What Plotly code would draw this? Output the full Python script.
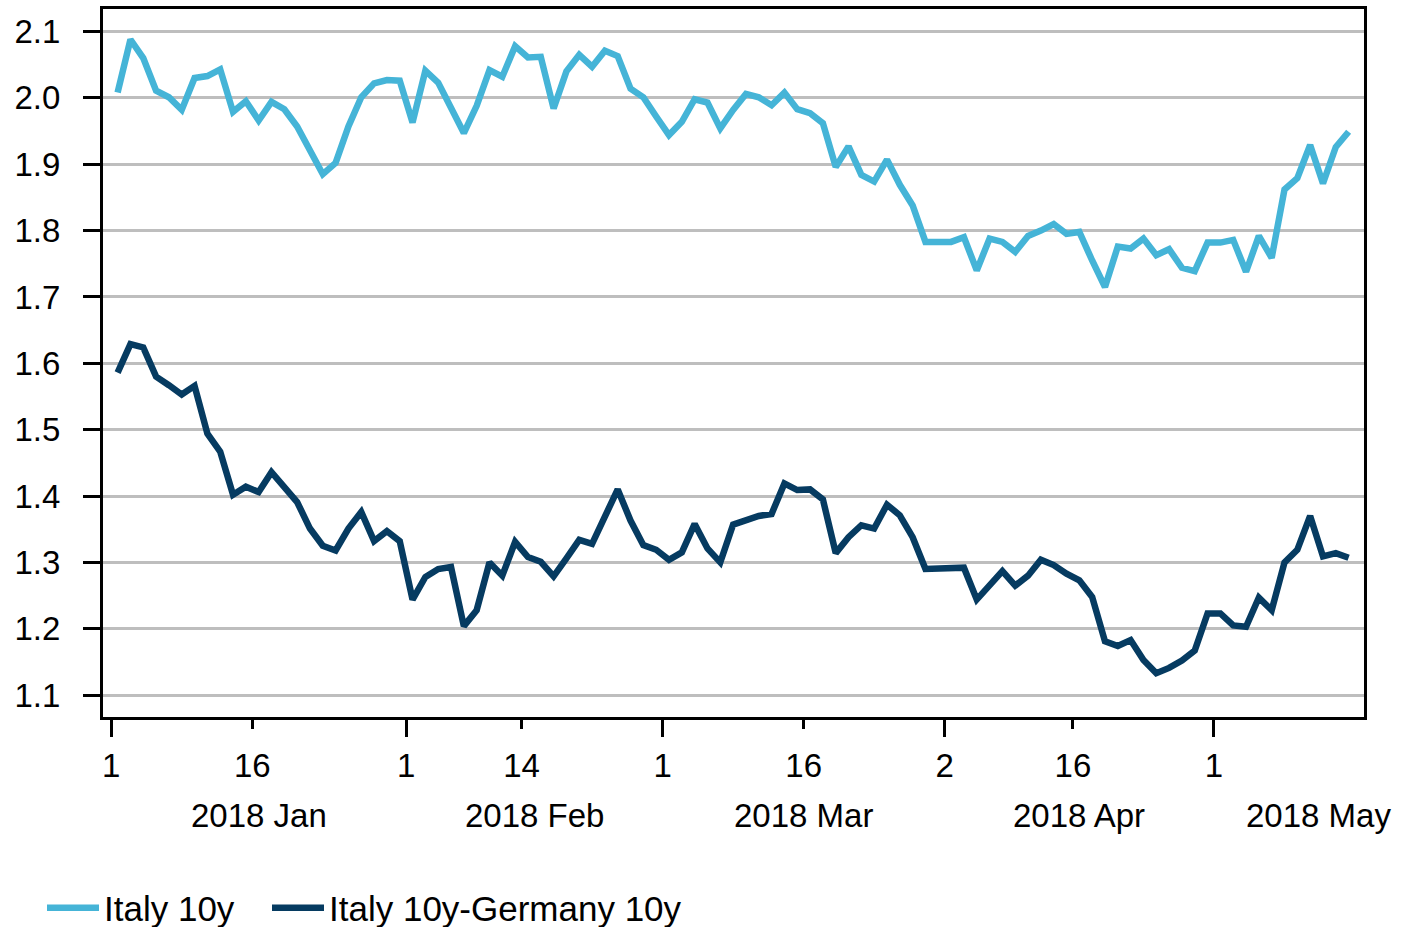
import pandas as pd
import plotly.graph_objects as go

# ---------------- data ----------------
dates = pd.bdate_range("2018-01-01", "2018-05-15")  # business days

italy_10y = [
    2.008, 2.088, 2.060, 2.011, 2.001, 1.982, 2.030, 2.033, 2.043, 1.979,
    1.995, 1.966, 1.994, 1.983, 1.957, 1.921, 1.885, 1.902, 1.957, 2.001,
    2.022, 2.027, 2.026, 1.963, 2.041, 2.023, 1.986, 1.947, 1.988, 2.042,
    2.032, 2.078, 2.061, 2.062, 1.984, 2.040, 2.065, 2.047, 2.071, 2.063,
    2.014, 2.001, 1.972, 1.944, 1.964, 1.998, 1.993, 1.954, 1.982, 2.006,
    2.001, 1.989, 2.008, 1.983, 1.977, 1.962, 1.896, 1.927, 1.884, 1.874,
    1.907, 1.869, 1.838, 1.783, 1.783, 1.783, 1.790, 1.740, 1.788, 1.783,
    1.768, 1.792, 1.800, 1.810, 1.795, 1.798, 1.755, 1.715, 1.776, 1.773,
    1.788, 1.763, 1.772, 1.744, 1.739, 1.782, 1.782, 1.786, 1.738, 1.792,
    1.759, 1.862, 1.879, 1.929, 1.871, 1.926, 1.949,
]

italy_germany_spread = [
    1.586, 1.629, 1.624, 1.580, 1.567, 1.553, 1.566, 1.494, 1.467, 1.402,
    1.414, 1.406, 1.436, 1.414, 1.391, 1.351, 1.325, 1.318, 1.351, 1.376,
    1.332, 1.347, 1.332, 1.244, 1.278, 1.290, 1.293, 1.204, 1.228, 1.300,
    1.280, 1.331, 1.308, 1.301, 1.279, 1.306, 1.334, 1.328, 1.368, 1.410,
    1.363, 1.326, 1.319, 1.304, 1.315, 1.358, 1.321, 1.300, 1.357, 1.363,
    1.370, 1.373, 1.419, 1.409, 1.410, 1.395, 1.314, 1.338, 1.356, 1.351,
    1.387, 1.371, 1.338, 1.290, 1.290, 1.290, 1.292, 1.244, 1.267, 1.287,
    1.265, 1.280, 1.304, 1.296, 1.283, 1.273, 1.248, 1.181, 1.174, 1.183,
    1.153, 1.133, 1.141, 1.152, 1.167, 1.223, 1.223, 1.205, 1.203, 1.247,
    1.228, 1.300, 1.319, 1.370, 1.309, 1.314, 1.307,
]

tick_dates = ["2018-01-01", "2018-01-16", "2018-02-01", "2018-02-14", "2018-03-01",
              "2018-03-16", "2018-04-02", "2018-04-16", "2018-05-01"]
tick_text = ["1", "16", "1", "14", "1", "16", "2", "16", "1"]
major_tick_dates = ["2018-01-01", "2018-02-01", "2018-03-01", "2018-04-02", "2018-05-01"]
month_labels = ["2018 Jan", "2018 Feb", "2018 Mar", "2018 Apr", "2018 May"]
y_ticks = [1.1, 1.2, 1.3, 1.4, 1.5, 1.6, 1.7, 1.8, 1.9, 2.0, 2.1]

# ---------------- positions on a business-day scale ----------------
positions = list(range(len(dates)))
all_bdays = pd.bdate_range("2018-01-01", "2018-05-31")
bday_index = {d.strftime("%Y-%m-%d"): i for i, d in enumerate(all_bdays)}
tick_pos = [bday_index[d] - 0.5 for d in tick_dates]
major_pos = [bday_index[d] - 0.5 for d in major_tick_dates]

X_RANGE = [-1.14, 97.2]
Y_RANGE = [1.067, 2.134]

LIGHT = "#45B4D7"
DARK = "#063B61"
FONT = "Liberation Sans, Arial, sans-serif"
TICK_SIZE = 33

fig = go.Figure()
fig.add_trace(go.Scatter(x=positions, y=italy_10y, mode="lines", name="Italy 10y",
                         line=dict(color=LIGHT, width=6.5), legend="legend"))
fig.add_trace(go.Scatter(x=positions, y=italy_germany_spread, mode="lines",
                         name="Italy 10y-Germany 10y",
                         line=dict(color=DARK, width=6.5), legend="legend2"))
fig.add_trace(go.Scatter(x=[], y=[], xaxis="x2", showlegend=False, hoverinfo="skip"))

# month labels centred on each month's business days (clamped to the figure)
W, H = 1404, 927
ML, MR, MT, MB = 103, 40, 9, 210
plot_w = W - ML - MR
plot_h = H - MT - MB
annotations = []
for lab in month_labels:
    m = pd.to_datetime(lab, format="%Y %b")
    idx = [i for i, d in enumerate(all_bdays) if d.month == m.month]
    centre = (idx[0] + idx[-1]) / 2
    px = ML + (centre - X_RANGE[0]) / (X_RANGE[1] - X_RANGE[0]) * plot_w
    half = 78
    if px + half > W - 8:
        px = W - 8 - half
    annotations.append(dict(text=lab, xref="paper", yref="paper",
                            x=(px - ML) / plot_w, y=-(815 - (H - MB)) / plot_h,
                            xanchor="center", yanchor="middle", showarrow=False,
                            font=dict(size=TICK_SIZE, color="black", family=FONT)))

legend_common = dict(orientation="h", y=-(908 - (H - MB)) / plot_h,
                     xanchor="left", yanchor="middle",
                     font=dict(size=35, color="black", family=FONT),
                     itemwidth=52, bgcolor="rgba(0,0,0,0)")

fig.update_layout(
    width=W, height=H,
    margin=dict(l=ML, r=MR, t=MT, b=MB, autoexpand=False),
    paper_bgcolor="white", plot_bgcolor="white",
    font=dict(family=FONT, color="black", size=TICK_SIZE),
    showlegend=True,
    legend=dict(x=(42 - ML) / plot_w, **legend_common),
    legend2=dict(x=(267 - ML) / plot_w, **legend_common),
    annotations=annotations,
    xaxis=dict(range=X_RANGE, tickmode="array", tickvals=tick_pos, ticktext=tick_text,
               ticks="outside", ticklen=9, tickwidth=3, tickcolor="black",
               showline=True, linewidth=3, linecolor="black", mirror=True,
               showgrid=False, zeroline=False, ticklabelstandoff=8, automargin=False,
               tickfont=dict(size=TICK_SIZE, color="black", family=FONT)),
    xaxis2=dict(range=X_RANGE, overlaying="x", anchor="y", side="bottom",
                tickmode="array", tickvals=major_pos, ticks="outside", ticklen=19,
                tickwidth=3, tickcolor="black", showticklabels=False, automargin=False,
                showline=False, showgrid=False, zeroline=False),
    yaxis=dict(range=Y_RANGE, tickmode="array", tickvals=y_ticks, tickformat=".1f",
               ticks="outside", ticklen=17, tickwidth=3, tickcolor="black",
               showline=True, linewidth=3, linecolor="black", mirror=True,
               showgrid=True, gridcolor="#BEBEBE", gridwidth=3, zeroline=False,
               ticklabelstandoff=16, automargin=False,
               tickfont=dict(size=TICK_SIZE, color="black", family=FONT)),
)

fig.write_html("out.html", config={"displayModeBar": False},
               post_script="document.body.style.margin='0';document.body.style.overflow='hidden';")
